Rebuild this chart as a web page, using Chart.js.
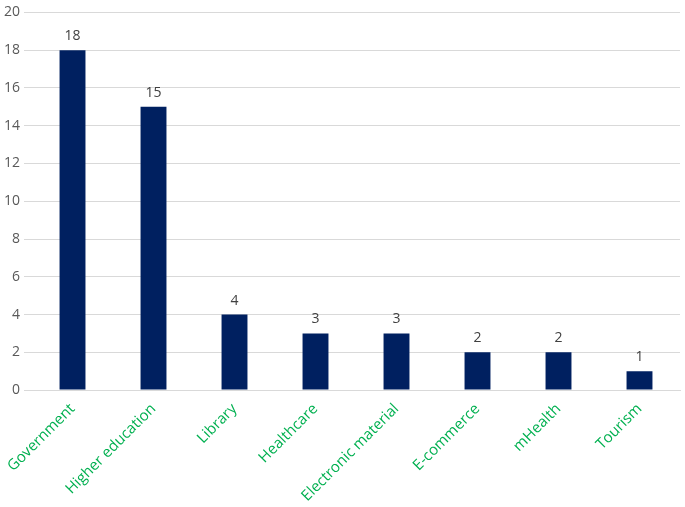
<!DOCTYPE html>
<html><head><meta charset="utf-8">
<script src="https://cdn.jsdelivr.net/npm/chart.js@4"></script>
<style>html,body{margin:0;padding:0;background:#fff}#w{width:685px;height:507px}</style>
</head><body><div id="w"><canvas id="c"></canvas></div>
<script>
const categories=["Government","Higher education","Library","Healthcare","Electronic material","E-commerce","mHealth","Tourism"];
const counts=[18,15,4,3,3,2,2,1];
const yTicks=[0,2,4,6,8,10,12,14,16,18,20];
const labelPlugin={id:'lbl',afterDatasetsDraw(ch){const ctx=ch.ctx;const m=ch.getDatasetMeta(0);ctx.save();ctx.font='14px "Open Sans", sans-serif';ctx.fillStyle='#404040';ctx.textAlign='center';ctx.textBaseline='bottom';m.data.forEach((b,i)=>{ctx.fillText(counts[i],b.x,b.y-7);});ctx.restore();}};
new Chart(document.getElementById('c'),{type:'bar',data:{labels:categories,datasets:[{data:counts,backgroundColor:'#002060',barPercentage:0.32,categoryPercentage:1}]},
options:{responsive:true,maintainAspectRatio:false,animation:false,layout:{padding:{top:0,right:5,left:0,bottom:0}},
plugins:{legend:{display:false},tooltip:{enabled:false}},
scales:{x:{grid:{display:false},border:{color:'#d9d9d9'},ticks:{color:'#00B050',font:{size:15,family:'"Open Sans", sans-serif'},minRotation:45,maxRotation:45,padding:2}},
y:{min:0,max:20,afterBuildTicks(a){a.ticks=yTicks.map(v=>({value:v}));},grid:{color:'#d9d9d9'},border:{display:false},ticks:{color:'#595959',font:{size:14,family:'"Open Sans", sans-serif'},padding:4}}}},
plugins:[labelPlugin]});
</script></body></html>
